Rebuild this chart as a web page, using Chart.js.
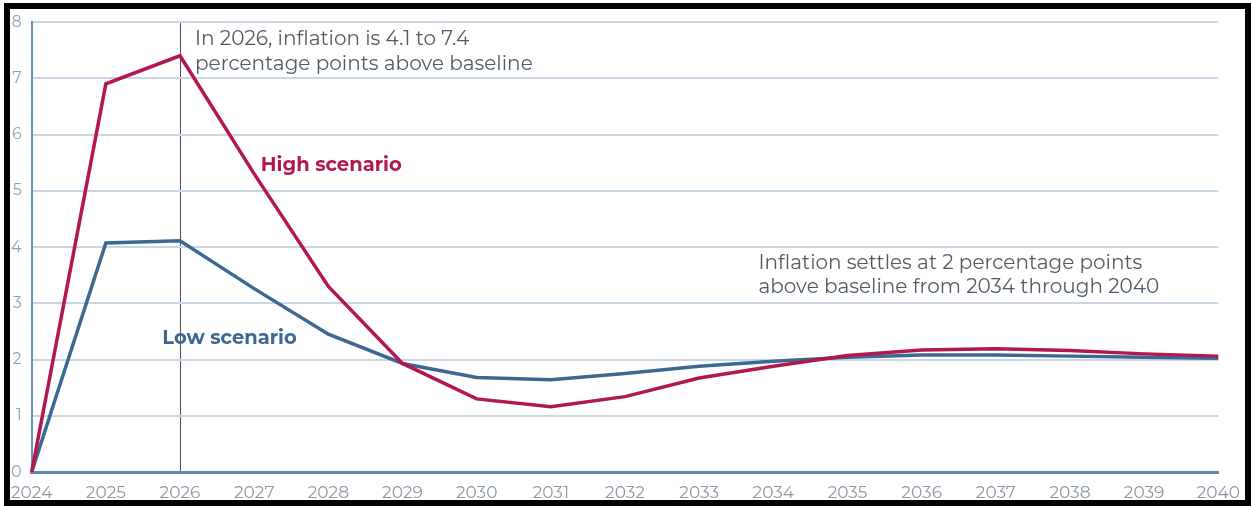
<!DOCTYPE html>
<html>
<head>
<meta charset="utf-8">
<script src="https://cdn.jsdelivr.net/npm/chart.js@4/dist/chart.umd.min.js"></script>
<style>
  html, body { margin: 0; padding: 0; background: #fff; }
  #wrap { position: absolute; left: 0; top: 0; width: 1251px; height: 506px; }
  #frame { position: absolute; left: 4px; top: 3px; width: 1235px; height: 491px;
           border: 6px solid #000; pointer-events: none; }
</style>
</head>
<body>
<div id="wrap">
  <canvas id="chart" width="1251" height="506"></canvas>
  <div id="frame"></div>
</div>
<script>
const years = ['2024', '2025', '2026', '2027', '2028', '2029', '2030', '2031', '2032',
               '2033', '2034', '2035', '2036', '2037', '2038', '2039', '2040'];
const highScenario = [0, 6.9, 7.4, 5.3, 3.3, 1.93, 1.3, 1.16, 1.34, 1.67, 1.88, 2.07, 2.17, 2.19, 2.16, 2.1, 2.06];
const lowScenario = [0, 4.07, 4.11, 3.26, 2.45, 1.93, 1.68, 1.64, 1.75, 1.88, 1.97, 2.04, 2.08, 2.08, 2.06, 2.04, 2.02];
const yTicks = [0, 1, 2, 3, 4, 5, 6, 7, 8];

const FONT = 'Montserrat, "DejaVu Sans", sans-serif';

// text notes drawn on top of the chart
const notes = {
    id: 'notes',
    afterDatasetsDraw(chart) {
        const { ctx, scales: { x, y } } = chart;
        ctx.save();
        ctx.textBaseline = 'middle';
        ctx.textAlign = 'left';

        ctx.fillStyle = '#555a60';
        ctx.font = '20px ' + FONT;
        const x26 = x.getPixelForValue(2) + 15;
        ctx.fillText('In 2026, inflation is 4.1 to 7.4', x26, y.getPixelForValue(7.7));
        ctx.fillText('percentage points above baseline', x26, y.getPixelForValue(7.25));

        const xr = x.getPixelForValue(9.8);
        ctx.fillText('Inflation settles at 2 percentage points', xr, y.getPixelForValue(3.72));
        ctx.fillText('above baseline from 2034 through 2040', xr, y.getPixelForValue(3.29));

        ctx.font = 'bold 19.5px ' + FONT;
        ctx.fillStyle = '#b3174f';
        ctx.fillText('High scenario', x.getPixelForValue(3.09), y.getPixelForValue(5.45));
        ctx.fillStyle = '#3d6892';
        ctx.fillText('Low scenario', x.getPixelForValue(1.76), y.getPixelForValue(2.38));
        ctx.restore();
    }
};

new Chart(document.getElementById('chart'), {
    type: 'line',
    data: {
        labels: years,
        datasets: [{
            label: 'High scenario',
            data: highScenario,
            borderColor: '#b3174f',
            borderWidth: 3.5,
            pointRadius: 0,
            tension: 0,
        }, {
            label: 'Low scenario',
            data: lowScenario,
            borderColor: '#3d6892',
            borderWidth: 3.5,
            pointRadius: 0,
            tension: 0,
        }],
    },
    options: {
        responsive: false,
        animation: false,
        layout: { padding: { top: 22, right: 29, left: 0, bottom: 0 } },
        plugins: { legend: { display: false }, tooltip: { enabled: false } },
        scales: {
            x: {
                grid: {
                    drawTicks: false,
                    color: ctx => ctx.index === 2 ? '#4a4f55' : 'rgba(0,0,0,0)',
                    lineWidth: 1,
                },
                border: { color: '#5f89b0', width: 3 },
                ticks: {
                    color: '#8c98a4',
                    font: { family: FONT, size: 17 },
                    padding: 11,
                    maxRotation: 0,
                    autoSkip: false,
                },
                afterFit: scale => { scale.height = 34; },
            },
            y: {
                min: 0,
                max: 8,
                afterBuildTicks: scale => { scale.ticks = yTicks.map(v => ({ value: v })); },
                grid: { drawTicks: false, color: '#c9d7e4', lineWidth: 2 },
                border: { color: '#6a92b7', width: 2 },
                ticks: {
                    color: '#8ea3b7',
                    font: { family: FONT, size: 16 },
                    padding: 10,
                },
                afterFit: scale => { scale.width = 31; },
            },
        },
    },
    plugins: [notes],
});
</script>
</body>
</html>
